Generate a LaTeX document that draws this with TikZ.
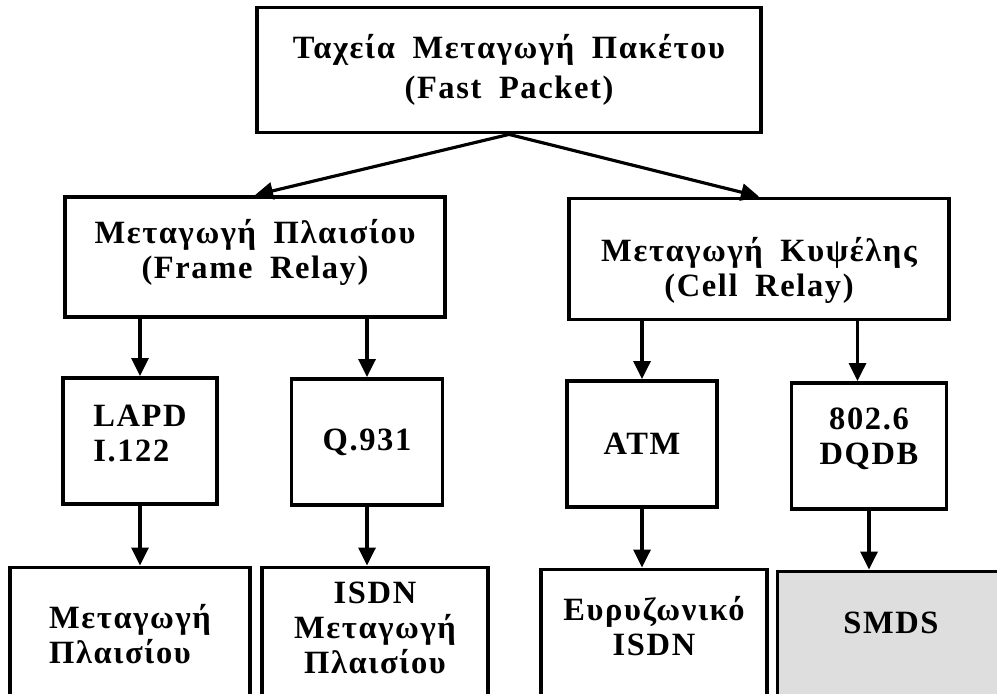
\documentclass[tikz,border=0pt]{standalone}
\usepackage{fontspec}
\setmainfont{Liberation Serif}
\newfontfamily\boxfont[LetterSpace=5,WordSpace=1.8]{Liberation Serif}
\usepackage{xcolor}
\usetikzlibrary{arrows.meta, positioning, calc}
\definecolor{smdsgray}{RGB}{222,222,222}

\begin{document}
\begin{tikzpicture}[
    x=0.02cm, y=-0.02cm,
    box/.style={draw, line width=2.2pt, align=center, inner sep=0pt,
        font=\boxfont\bfseries\fontsize{18.5}{20}\selectfont},
    arrow/.style={-{Triangle[length=0.36cm,width=0.34cm]}, line width=1.8pt}
]
    \clip (0,0) rectangle (997,693);
    \fill[white] (0,0) rectangle (997,693);

    % top level
    \node[box, minimum width=10.08cm, minimum height=2.5cm,
        font=\boxfont\bfseries\fontsize{18.5}{23}\selectfont]
        (fast) at (509,70) {Ταχεία Μεταγωγή Πακέτου\\(Fast Packet)};

    % second level
    \node[box, minimum width=7.6cm, minimum height=2.4cm, text depth=0.34cm] (frame) at (255,257)
        {Μεταγωγή Πλαισίου\\(Frame Relay)};
    \node[box, minimum width=7.6cm, minimum height=2.42cm, text height=1.64cm] (cell) at (759,259)
        {Μεταγωγή Κυψέλης\\(Cell Relay)};

    % protocols
    \node[box, align=left, minimum width=3.08cm, minimum height=2.52cm, text depth=0.32cm] (lapd) at (140,441)
        {LAPD\\I.122};
    \node[box, minimum width=3.02cm, minimum height=2.52cm] (q931) at (367,442) {Q.931};
    \node[box, minimum width=3.0cm, minimum height=2.52cm] (atm) at (642,444) {ATM};
    \node[box, minimum width=3.1cm, minimum height=2.52cm, text depth=0.38cm] (dqdb) at (869,446)
        {802.6\\DQDB};

    % services
    \node[box, align=left, minimum width=4.8cm, minimum height=2.66cm] (frsw) at (130,634)
        {Μεταγωγή\\Πλαισίου};
    \node[box, minimum width=4.52cm, minimum height=2.66cm, text depth=0.24cm] (isdnfr) at (375,634)
        {ISDN\\Μεταγωγή\\Πλαισίου};
    \node[box, minimum width=4.52cm, minimum height=2.62cm, text depth=0.38cm] (bisdn) at (654,635)
        {Ευρυζωνικό\\ISDN};
    \node[box, fill=smdsgray, minimum width=4.54cm, minimum height=2.58cm, text depth=0.52cm] (smds) at (891,636)
        {SMDS};

    % connectors
    \draw[arrow] (fast.south) -- (frame.north);
    \draw[arrow] (fast.south) -- (cell.north);
    \draw[arrow] (frame.south -| lapd.north) -- (lapd.north);
    \draw[arrow] (frame.south -| q931.north) -- (q931.north);
    \draw[arrow] (cell.south -| atm.north) -- (atm.north);
    \draw[arrow] ([xshift=-0.23cm]cell.south -| dqdb.north) -- ([xshift=-0.23cm]dqdb.north);
    \draw[arrow] (lapd.south) -- (lapd.south |- frsw.north);
    \draw[arrow] (q931.south) -- (q931.south |- isdnfr.north);
    \draw[arrow] (atm.south) -- (atm.south |- bisdn.north);
    \draw[arrow] (dqdb.south) -- (dqdb.south |- smds.north);
\end{tikzpicture}
\end{document}
